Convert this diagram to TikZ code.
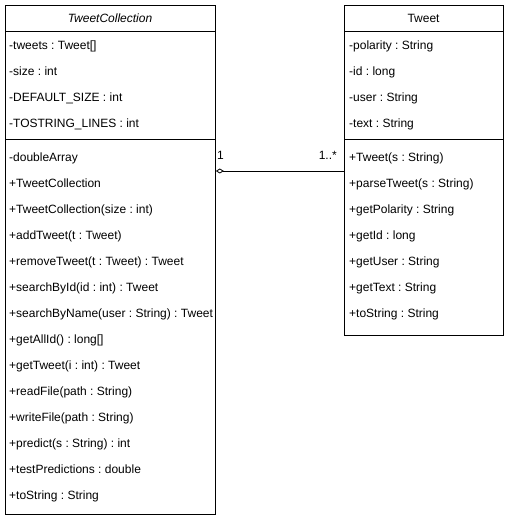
\documentclass[tikz,border=0pt]{standalone}
\usepackage{fontspec}
\setmainfont{Liberation Sans}
\usetikzlibrary{positioning, arrows.meta}

\newcommand{\umlfont}{\fontsize{12}{14}\selectfont\frenchspacing}

\begin{document}
\begin{tikzpicture}[x=1pt, y=-1pt, every node/.style={font=\umlfont, inner sep=0pt}, member/.style={anchor=base west}, classbox/.style={draw, line width=0.8pt, anchor=north west}]
	\useasboundingbox (0,0) rectangle (509,521);
	% TweetCollection
	\node[classbox, minimum width=210pt, minimum height=509pt] (tc) at (5,5) {};
	\node[font=\umlfont\itshape, anchor=base] (tctitle) at (110,22.5) {TweetCollection};
	\draw[line width=0.8pt] (tc.west |- 0,31) -- (tc.east |- 0,31);
	\draw[line width=0.8pt] (tc.west |- 0,139) -- (tc.east |- 0,139);
	\begin{scope}
		\clip (5,5) rectangle (214.6,514);
		\foreach \m [count=\i] in {-tweets : Tweet[], -size : int, -DEFAULT\_SIZE : int, -TOSTRING\_LINES : int}
			\node[member] (tca\i) at (9,23.5+26*\i) {\m};
		\foreach \m [count=\i] in {-doubleArray, +TweetCollection, +TweetCollection(size : int), +addTweet(t : Tweet), +removeTweet(t : Tweet) : Tweet, +searchById(id : int) : Tweet, +searchByName(user : String) : Tweet, +getAllId() : long[], +getTweet(i : int) : Tweet, +readFile(path : String), +writeFile(path : String), +predict(s : String) : int, +testPredictions : double, +toString : String}
			\node[member] (tcm\i) at (9,135.5+26*\i) {\m};
	\end{scope}
	% Tweet
	\node[classbox, minimum width=159pt, minimum height=330pt] (tw) at (344,5) {};
	\node[anchor=base] (twtitle) at (423.5,22.5) {Tweet};
	\draw[line width=0.8pt] (tw.west |- 0,31) -- (tw.east |- 0,31);
	\draw[line width=0.8pt] (tw.west |- 0,139) -- (tw.east |- 0,139);
	\foreach \m [count=\i] in {-polarity : String, -id : long, -user : String, -text : String}
		\node[member] (twa\i) at (349,23.5+26*\i) {\m};
	\foreach \m [count=\i] in {+Tweet(s : String), +parseTweet(s : String), +getPolarity : String, +getId : long, +getUser : String, +getText : String, +toString : String}
		\node[member] (twm\i) at (349,135.5+26*\i) {\m};
	% aggregation
	\coordinate (agg) at (0,171);
	\draw[line width=0.8pt, {Diamond[open, length=8pt, width=5pt]}-] (tc.east |- agg) -- (tw.west |- agg);
	\node[anchor=base west] (m1) at (217,160) {1};
	\node[anchor=base east] (m2) at (337,160) {1..*};
\end{tikzpicture}
\end{document}
